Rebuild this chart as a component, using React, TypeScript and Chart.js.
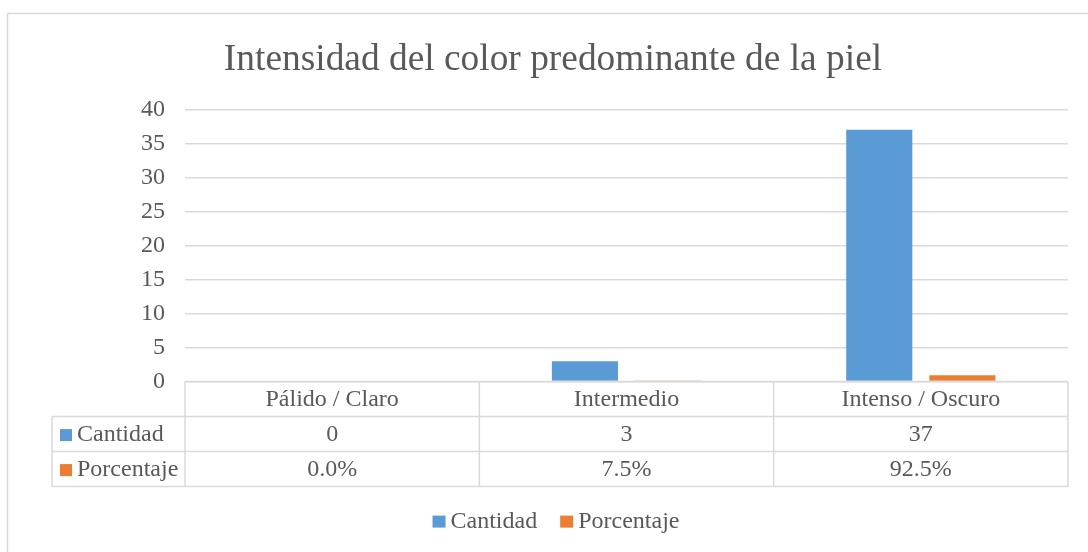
import React, { useEffect, useRef } from "react";
import { Chart, registerables } from "chart.js";

Chart.register(...registerables);

const titleText = "Intensidad del color predominante de la piel";
const categories = ["Pálido / Claro", "Intermedio", "Intenso / Oscuro"];
const seriesNames = ["Cantidad", "Porcentaje"];
const cantidad = [0, 3, 37];
const porcentaje = [0, 0.075, 0.925];
const yMin = 0;
const yMax = 40;
const yStep = 5;

const BLUE = "#5b9bd5";
const ORANGE = "#ed7d31";
const TEXT = "#595959";
const GRID = "#d9d9d9";
const FONT = "'Liberation Serif', 'Times New Roman', serif";

const W = 1088;
const H = 552;
const PAD_LEFT = 38;
const PAD_RIGHT = 20;

const borderPlugin = {
  id: "outerBorder",
  beforeDraw(chart: any) {
    const ctx = chart.ctx;
    ctx.save();
    ctx.fillStyle = "#ffffff";
    ctx.fillRect(0, 0, chart.width, chart.height);
    ctx.strokeStyle = GRID;
    ctx.lineWidth = 1.5;
    ctx.strokeRect(7.5, 13.5, chart.width + 20, chart.height + 20);
    ctx.restore();
  },
};

const tablePlugin = {
  id: "dataTable",
  afterDraw(chart: any) {
    const { ctx, chartArea } = chart;
    const xScale = chart.scales.x;
    const top = chartArea.bottom;
    const rowH = 35;
    const headLeft = 52;
    const left = chartArea.left;
    const right = chartArea.right;
    const n = categories.length;
    const catW = (right - left) / n;
    ctx.save();
    ctx.strokeStyle = GRID;
    ctx.lineWidth = 1.5;
    ctx.beginPath();
    ctx.moveTo(left, top);
    ctx.lineTo(right, top);
    for (let r = 1; r <= 3; r++) {
      ctx.moveTo(headLeft, top + r * rowH);
      ctx.lineTo(right, top + r * rowH);
    }
    ctx.moveTo(headLeft, top + rowH);
    ctx.lineTo(headLeft, top + 3 * rowH);
    for (let i = 0; i <= n; i++) {
      const xx = left + i * catW;
      ctx.moveTo(xx, top);
      ctx.lineTo(xx, top + 3 * rowH);
    }
    ctx.stroke();

    ctx.fillStyle = TEXT;
    ctx.font = `24px ${FONT}`;
    ctx.textBaseline = "middle";
    ctx.textAlign = "center";
    const rows = [
      categories,
      cantidad.map((v) => String(v)),
      porcentaje.map((v) => (v * 100).toFixed(1) + "%"),
    ];
    rows.forEach((row, r) => {
      const cy = top + r * rowH + rowH / 2 + 1;
      row.forEach((txt, i) => {
        const cx = xScale.getPixelForValue(i);
        ctx.fillText(txt, cx, cy);
      });
    });
    const colors = [BLUE, ORANGE];
    seriesNames.forEach((name, s) => {
      const cy = top + (s + 1) * rowH + rowH / 2 + 1;
      ctx.fillStyle = colors[s];
      ctx.fillRect(60, cy - 6, 12, 12);
      ctx.fillStyle = TEXT;
      ctx.textAlign = "left";
      ctx.fillText(name, 77, cy);
    });

    // bottom legend
    const legendY = top + 3 * rowH + 35;
    const box = 13;
    const gapText = 5;
    const gapItem = 23;
    const widths = seriesNames.map((s) => ctx.measureText(s).width);
    const total =
      widths.reduce((a: number, w: number) => a + box + gapText + w, 0) +
      gapItem * (seriesNames.length - 1);
    let lx = (PAD_LEFT + chart.width - PAD_RIGHT) / 2 + 3 - total / 2;
    seriesNames.forEach((name, s) => {
      ctx.fillStyle = colors[s];
      ctx.fillRect(lx, legendY - 6, box, 12);
      ctx.fillStyle = TEXT;
      ctx.textAlign = "left";
      ctx.fillText(name, lx + box + gapText, legendY);
      lx += box + gapText + widths[s] + gapItem;
    });
    ctx.restore();
  },
};

export default function App() {
  const canvasRef = useRef<HTMLCanvasElement | null>(null);

  useEffect(() => {
    if (!canvasRef.current) return;
    const chart = new Chart(canvasRef.current, {
      type: "bar",
      data: {
        labels: categories,
        datasets: [
          {
            label: seriesNames[0],
            data: cantidad,
            backgroundColor: BLUE,
            borderWidth: 0,
            categoryPercentage: 0.565,
            barPercentage: 0.795,
          },
          {
            label: seriesNames[1],
            data: porcentaje,
            backgroundColor: ORANGE,
            borderWidth: 0,
            categoryPercentage: 0.565,
            barPercentage: 0.795,
          },
        ],
      },
      options: {
        responsive: false,
        animation: false,
        layout: { padding: { left: PAD_LEFT, right: PAD_RIGHT, top: 0, bottom: 55.8 } },
        scales: {
          x: {
            display: true,
            grid: { display: false },
            border: { display: false },
            ticks: { display: false },
            afterFit(scale: any) {
              scale.height = 114.6;
            },
          },
          y: {
            min: yMin,
            max: yMax,
            ticks: {
              stepSize: yStep,
              color: TEXT,
              font: { family: FONT, size: 24 },
              padding: 20,
            },
            grid: { color: GRID, lineWidth: 1.5, drawTicks: false },
            border: { display: false },
            afterFit(scale: any) {
              scale.width = 185 - PAD_LEFT;
            },
          },
        },
        plugins: {
          title: {
            display: true,
            text: titleText,
            color: TEXT,
            font: { family: FONT, size: 37.4, weight: "normal" },
            padding: { top: 37.5, bottom: 27 },
          },
          legend: { display: false },
          tooltip: { enabled: false },
        },
      },
      plugins: [borderPlugin, tablePlugin],
    });
    return () => chart.destroy();
  }, []);

  return (
    <div style={{ position: "absolute", left: 0, top: 0, width: W, height: H }}>
      <canvas ref={canvasRef} width={W} height={H} style={{ width: W, height: H }} />
    </div>
  );
}
